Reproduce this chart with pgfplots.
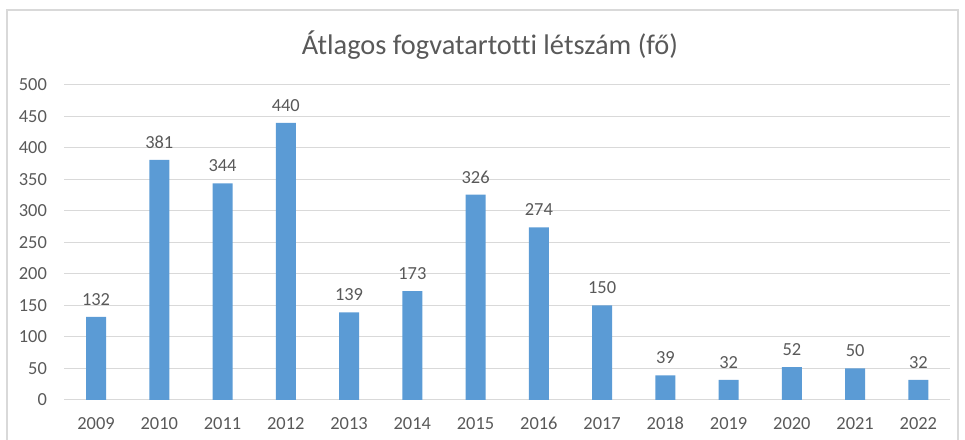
\documentclass[border=0pt]{standalone}
\usepackage{pgfplots}
\pgfplotsset{compat=1.18}
\usepackage{fontspec}
\setmainfont{Carlito}[Ligatures=NoCommon]
\definecolor{barblue}{HTML}{5B9BD5}
\definecolor{txtgray}{HTML}{595959}
\definecolor{gridgray}{HTML}{D9D9D9}
\begin{document}
\begin{tikzpicture}[x=1bp,y=1bp]
\useasboundingbox (0,0) rectangle (965,440);
\draw[gridgray, line width=1.2bp] (7,-5) -- (7,430) -- (958,430) -- (958,-5);
\node[txtgray, font=\fontsize{28.5}{32}\selectfont] at (490,395) {Átlagos fogvatartotti létszám (fő)};
\begin{axis}[
  at={(64.4bp,40bp)}, anchor=south west,
  scale only axis, width=885.6bp, height=315bp,
  xmin=-0.5, xmax=13.5, ymin=0, ymax=500,
  xtick=data,
  xticklabels={2009,2010,2011,2012,2013,2014,2015,2016,2017,2018,2019,2020,2021,2022},
  ytick={0,50,...,500},
  ymajorgrids, grid style={gridgray, line width=1bp},
  axis x line*=bottom, axis y line*=left,
  x axis line style={draw=gridgray, line width=1bp, -},
  y axis line style={draw=none},
  ytick style={draw=none}, xtick style={draw=none},
  major tick length=0pt,
  tick label style={txtgray, font=\fontsize{18.5}{22}\selectfont},
  /pgf/number format/assume math mode=true,
  xticklabel style={anchor=north, text height=13bp, text depth=0bp, yshift=-13bp},
  yticklabel style={xshift=-14bp},
  ybar, bar width=20bp,
  nodes near coords,
  nodes near coords style={txtgray, font=\fontsize{18.5}{22}\selectfont, anchor=south, text height=13bp, text depth=0bp, yshift=8bp},
  clip=false,
]
\addplot[fill=barblue, draw=none] coordinates {
(0,132) (1,381) (2,344) (3,440) (4,139) (5,173) (6,326) (7,274) (8,150) (9,39) (10,32) (11,52) (12,50) (13,32)};
\end{axis}
\end{tikzpicture}
\end{document}
